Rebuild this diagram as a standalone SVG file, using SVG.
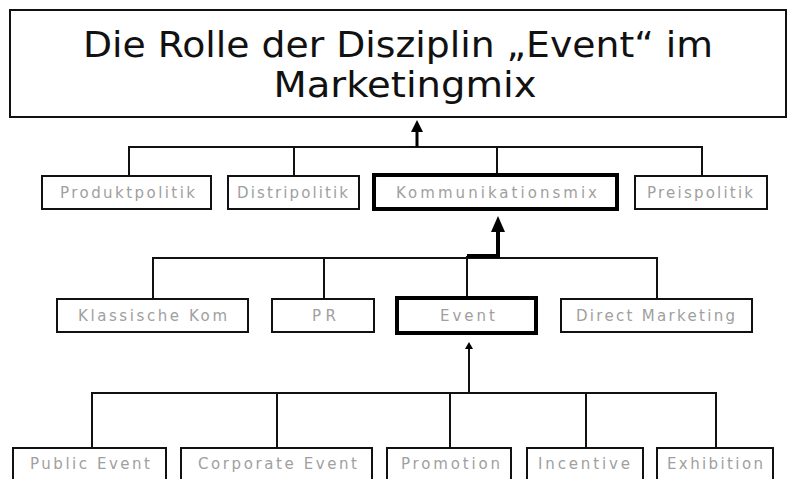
<svg xmlns="http://www.w3.org/2000/svg" width="789" height="479" viewBox="0 0 789 479">
<style>
.box{fill:#fff;stroke:#111;stroke-width:2}
.thick{fill:#fff;stroke:#000;stroke-width:4}
.lbl{font-family:"DejaVu Sans","Verdana",sans-serif;font-size:15px;fill:#a0a0a0;text-anchor:middle}
.title{font-family:"DejaVu Sans","Verdana",sans-serif;font-size:35px;fill:#111;text-anchor:middle}
.ln{fill:none;stroke:#111;stroke-width:2}
.lnt{fill:none;stroke:#000;stroke-width:4}
</style>
<rect width="789" height="479" fill="#fff"/>
<g id="connectors">
<polyline class="ln" points="129,176 129,147 702,147 702,176"/>
<line class="ln" x1="294" y1="147" x2="294" y2="176"/>
<line class="ln" x1="497" y1="147" x2="497" y2="174"/>
<line class="lnt" x1="417" y1="147" x2="417" y2="130" style="stroke-width:3"/>
<polygon points="417,120 411,132 423,132" fill="#000"/>
<polyline class="ln" points="153,299 153,258 657,258 657,299"/>
<line class="ln" x1="324" y1="258" x2="324" y2="299"/>
<line class="ln" x1="467" y1="256" x2="467" y2="297"/>
<polyline class="lnt" points="467,256 498,256 498,228"/>
<polygon points="498,216 491,232 505,232" fill="#000"/>
<polyline class="ln" points="92,448 92,393 716,393 716,448"/>
<line class="ln" x1="277" y1="393" x2="277" y2="448"/>
<line class="ln" x1="450" y1="393" x2="450" y2="448"/>
<line class="ln" x1="586" y1="393" x2="586" y2="448"/>
<line class="ln" x1="469" y1="393" x2="469" y2="346"/>
<polygon points="469,342 465,349 473,349" fill="#000"/>
</g>
<g id="title">
<rect class="box" x="10" y="10" width="776" height="107"/>
<text class="title" x="398" y="57" textLength="630" lengthAdjust="spacingAndGlyphs">Die Rolle der Disziplin „Event“ im</text>
<text class="title" x="405" y="97" textLength="263" lengthAdjust="spacingAndGlyphs">Marketingmix</text>
</g>
<g id="produktpolitik"><rect class="box" x="42" y="176" width="169" height="33"/><text class="lbl" x="127.5" y="198" textLength="135" lengthAdjust="spacing">Produktpolitik</text></g>
<g id="distripolitik"><rect class="box" x="228" y="176" width="131" height="33"/><text class="lbl" x="292.5" y="198" textLength="111" lengthAdjust="spacing">Distripolitik</text></g>
<g id="kommunikationsmix"><rect class="thick" x="374" y="175" width="243" height="34"/><text class="lbl" x="496.5" y="198" textLength="201" lengthAdjust="spacing">Kommunikationsmix</text></g>
<g id="preispolitik"><rect class="box" x="635" y="176" width="132" height="33"/><text class="lbl" x="700" y="198" textLength="106" lengthAdjust="spacing">Preispolitik</text></g>
<g id="klassische"><rect class="box" x="57" y="299" width="191" height="33"/><text class="lbl" x="152.5" y="321" textLength="149" lengthAdjust="spacing">Klassische Kom</text></g>
<g id="pr"><rect class="box" x="272" y="299" width="102" height="33"/><text class="lbl" x="324" y="321" textLength="24" lengthAdjust="spacing">PR</text></g>
<g id="event"><rect class="thick" x="397" y="298" width="139" height="35"/><text class="lbl" x="467.5" y="321" textLength="55" lengthAdjust="spacing">Event</text></g>
<g id="direct"><rect class="box" x="561" y="299" width="191" height="33"/><text class="lbl" x="655.5" y="321" textLength="159" lengthAdjust="spacing">Direct Marketing</text></g>
<g id="public"><rect class="box" x="13" y="448" width="153" height="40"/><text class="lbl" x="90" y="469" textLength="120" lengthAdjust="spacing">Public Event</text></g>
<g id="corporate"><rect class="box" x="181" y="448" width="191" height="40"/><text class="lbl" x="277.5" y="469" textLength="159" lengthAdjust="spacing">Corporate Event</text></g>
<g id="promotion"><rect class="box" x="387" y="448" width="124" height="40"/><text class="lbl" x="450.5" y="469" textLength="99" lengthAdjust="spacing">Promotion</text></g>
<g id="incentive"><rect class="box" x="527" y="448" width="116" height="40"/><text class="lbl" x="584" y="469" textLength="92" lengthAdjust="spacing">Incentive</text></g>
<g id="exhibition"><rect class="box" x="657" y="448" width="116" height="40"/><text class="lbl" x="715" y="469" textLength="96" lengthAdjust="spacing">Exhibition</text></g>
</svg>
